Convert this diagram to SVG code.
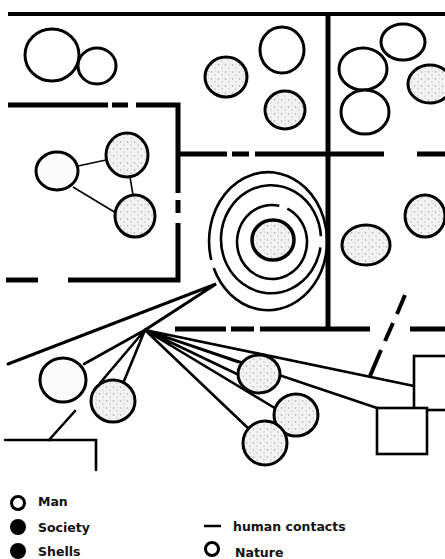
<svg xmlns="http://www.w3.org/2000/svg" width="445" height="559" viewBox="0 0 445 559">
<style>
.wall{stroke:#000;stroke-width:5;fill:none}
.thin{stroke:#000;stroke-width:4;fill:none}
.ray{stroke:#000;stroke-width:2.6;fill:none;stroke-linecap:round}
.link{stroke:#000;stroke-width:1.6;fill:none}
.man{fill:#fff;stroke:#000;stroke-width:3}
.soc{fill:url(#dots);stroke:#000;stroke-width:3}
.ring{fill:none;stroke:#000;stroke-width:2.6}
.box{fill:#fff;stroke:#000;stroke-width:2.6}
.lbl{font-family:"DejaVu Sans",sans-serif;font-weight:bold;font-size:12.5px;fill:#111}
</style>
<defs>
<pattern id="dots" width="7" height="7" patternUnits="userSpaceOnUse">
<rect width="7" height="7" fill="#f2f2f2"/>
<circle cx="1.5" cy="2" r="0.8" fill="#a8a8a8"/>
<circle cx="5" cy="5" r="0.7" fill="#b8b8b8"/>
<circle cx="5.5" cy="1" r="0.5" fill="#c4c4c4"/>
</pattern>
</defs>
<rect width="445" height="559" fill="#fff"/>

<g id="connectors">
<!-- partitions -->
<line class="thin" x1="8" y1="14" x2="445" y2="14"/>
<line class="wall" x1="328" y1="12" x2="328" y2="331"/>
<path class="wall" d="M8 105H108M112 105H128M136 105H178V193M178 200V213M178 223V280H68M38 280H6"/>
<path class="wall" d="M178 154H227M232 154H249M255 154H384M417 154H445"/>
<path class="wall" d="M175 329H226M231 329H254M260 329H370M410 329H445"/>
<path class="wall" d="M405 295L397 314M393 323L385 341M381 350L370 376" style="stroke-width:4"/>
<!-- wedge -->
<path class="ray" d="M8 364L216 284L145 330" style="stroke-width:3"/>
<!-- fan -->
<path class="ray" d="M145 330L84 364M145 330L100 383M145 330L124 381"/>
<path class="ray" d="M145 330L414 386M145 330L377 408M145 330L238 362M145 330L239 375M145 330L278 410M145 330L250 430"/>
<!-- bottom left -->
<path class="ray" d="M75 411L49 440"/>
<path class="ray" d="M5 440H96V470"/>
<!-- network links -->
<path class="link" d="M78 166L106 160M73 187L116 213M130 177L133 195"/>
</g>

<g id="rings">
<path class="ring" d="M287.3 208.7A35 37 0 1 1 279.3 205.8"/>
<path class="ring" d="M320.4 247.4A50 54 0 1 1 320.9 236.2"/>
<path class="ring" d="M211.3 260A59 69 0 1 1 213.7 268"/>
</g>
<g id="center"><ellipse class="soc" cx="273" cy="240" rx="21" ry="20" style="stroke-width:3.5"/></g>

<g id="squares">
<rect class="box" x="414" y="356" width="34" height="54"/>
<rect class="box" x="377" y="408" width="50" height="46"/>
</g>

<g id="man1"><ellipse class="man" cx="52" cy="55" rx="27" ry="26"/></g>
<g id="man2"><ellipse class="man" cx="97" cy="66" rx="19" ry="18"/></g>
<g id="soc1"><ellipse class="soc" cx="226" cy="77" rx="21" ry="20"/></g>
<g id="man3"><ellipse class="man" cx="282" cy="50" rx="22" ry="23"/></g>
<g id="soc2"><ellipse class="soc" cx="285" cy="110" rx="20" ry="19"/></g>
<g id="man4"><ellipse class="man" cx="403" cy="42" rx="22" ry="18"/></g>
<g id="man5"><ellipse class="man" cx="363" cy="69" rx="24" ry="21"/></g>
<g id="man6"><ellipse class="man" cx="365" cy="112" rx="24" ry="22"/></g>
<g id="soc3"><ellipse class="soc" cx="430" cy="84" rx="22" ry="19"/></g>

<g id="net1"><ellipse class="soc" cx="57" cy="171" rx="21" ry="19" style="fill:#fbfbfb"/></g>
<g id="net2"><ellipse class="soc" cx="127" cy="155" rx="21" ry="22"/></g>
<g id="net3"><ellipse class="soc" cx="135" cy="216" rx="20" ry="21"/></g>

<g id="soc4"><ellipse class="soc" cx="366" cy="245" rx="24" ry="20"/></g>
<g id="soc5"><ellipse class="soc" cx="425" cy="216" rx="20" ry="21"/></g>

<g id="low1"><ellipse class="soc" cx="63" cy="380" rx="23" ry="22" style="fill:#fbfbfb"/></g>
<g id="low2"><ellipse class="soc" cx="113" cy="401" rx="22" ry="21"/></g>
<g id="shellA"><ellipse class="soc" cx="259" cy="374" rx="21" ry="19"/></g>
<g id="shellB"><ellipse class="soc" cx="296" cy="415" rx="22" ry="21"/></g>
<g id="shellC"><ellipse class="soc" cx="265" cy="443" rx="22" ry="22"/></g>

<g id="legend">
<circle cx="18" cy="503" r="6.5" fill="#fff" stroke="#000" stroke-width="3"/>
<text class="lbl" x="38" y="506">Man</text>
<circle cx="18" cy="527" r="8" fill="#000"/>
<text class="lbl" x="38" y="532">Society</text>
<circle cx="18" cy="551" r="8" fill="#000"/>
<text class="lbl" x="38" y="556">Shells</text>
<line x1="204" y1="526" x2="221" y2="526" stroke="#000" stroke-width="2.5"/>
<text class="lbl" x="233" y="531">human contacts</text>
<circle cx="212" cy="549" r="6.5" fill="#fff" stroke="#000" stroke-width="3"/>
<text class="lbl" x="235" y="557">Nature</text>
</g>
</svg>
